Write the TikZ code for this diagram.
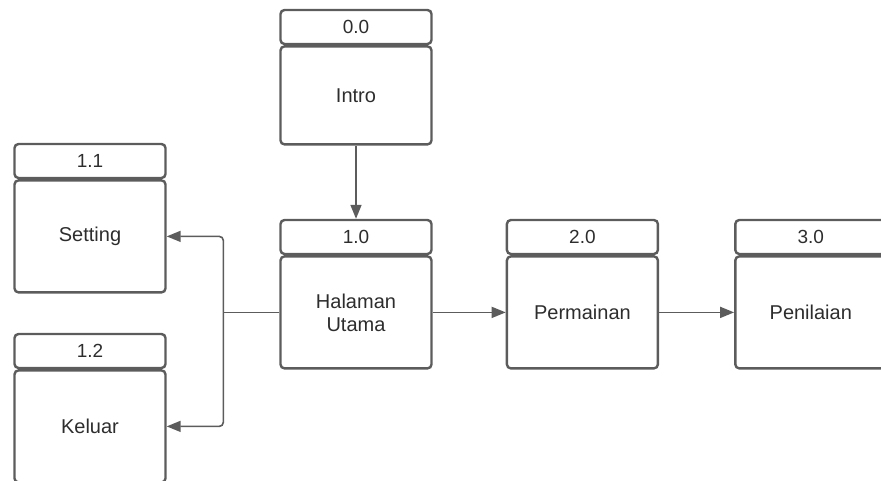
\documentclass[tikz,border=0pt]{standalone}
\usepackage{fontspec}
\setmainfont{Liberation Sans}
\usepackage{xcolor}
\usepackage{tikz}
\usetikzlibrary{arrows.meta,positioning}
\definecolor{lineg}{RGB}{92,92,92}
\definecolor{textg}{RGB}{45,45,45}
\tikzset{
  hdrbox/.style={rectangle, rounded corners=4pt, draw=lineg, line width=2.4pt, minimum width=151pt, minimum height=34pt, inner sep=0pt, text=textg, font=\fontsize{19}{22}\selectfont},
  procbox/.style={hdrbox, minimum height=112pt, align=center, font=\fontsize{20}{23}\selectfont},
  parrow/.style={-{Triangle[length=14pt,width=11pt]}, line width=1.6pt, lineg},
  pline/.style={line width=1.6pt, lineg}
}

\begin{document}
\begin{tikzpicture}[x=1pt, y=-1pt]
\useasboundingbox (0,0) rectangle (881,481);
\node[hdrbox] (h00) at (356,27) {0.0};
\node[procbox, minimum height=98pt, below=0pt of h00] (intro) {Intro};
\node[hdrbox] (h10) at (356,237) {1.0};
\node[procbox, below=0pt of h10] (halaman) {Halaman\\Utama};
\node[hdrbox, right=73pt of h10] (h20) {2.0};
\node[procbox, below=0pt of h20] (main) {Permainan};
\node[hdrbox, right=75pt of h20] (h30) {3.0};
\node[procbox, below=0pt of h30] (nilai) {Penilaian};
\node[hdrbox] (h11) at (90,161) {1.1};
\node[procbox, below=0pt of h11] (setting) {Setting};
\node[hdrbox] (h12) at (90,351) {1.2};
\node[procbox, below=0pt of h12] (keluar) {Keluar};
\coordinate[left=56pt of halaman.west] (fork);
\draw[parrow] (intro) -- (h10);
\draw[parrow] (halaman) -- (main);
\draw[parrow] (main) -- (nilai);
\draw[pline] (halaman.west) -- (fork);
\draw[parrow, rounded corners=4pt] (fork) |- (setting.east);
\draw[parrow, rounded corners=4pt] (fork) |- (keluar.east);
\end{tikzpicture}
\end{document}
